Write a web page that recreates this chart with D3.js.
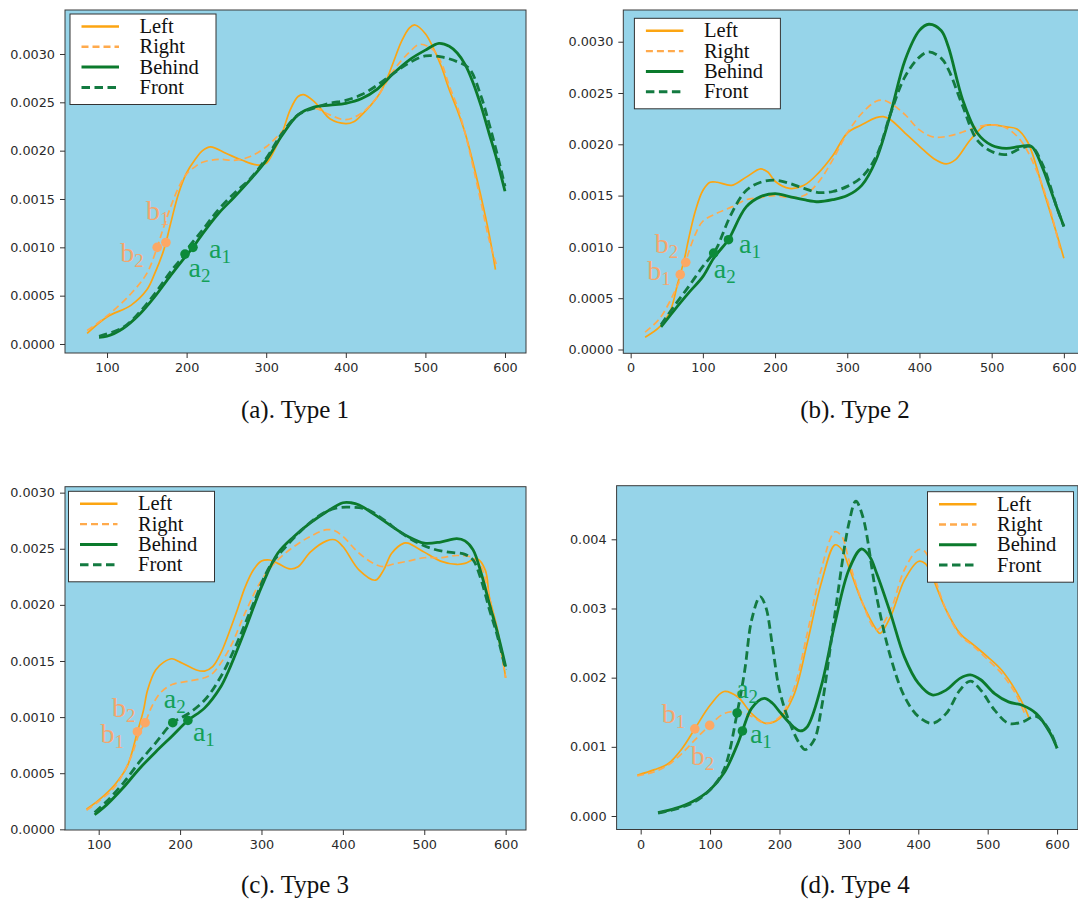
<!DOCTYPE html>
<html>
<head>
<meta charset="utf-8">
<script src="https://cdn.jsdelivr.net/npm/d3@7"></script>
<style>
  html, body { margin: 0; padding: 0; background: #ffffff; }
  svg { display: block; }
  .tick text { font-family: "DejaVu Sans", sans-serif; font-size: 12.8px; fill: #2a2a2a; }
  .tick line { stroke: #333333; }
  .domain { display: none; }
</style>
</head>
<body>
<svg id="chart" width="1078" height="907"></svg>
<script>
// ---- Density curves, [speed, density] pairs ----
const type1Left   = [[75,0.00011],[100,0.00028],[130,0.0004],[150,0.00056],[160,0.00073],[170,0.00094],[174,0.00105],[180,0.00125],[190,0.00156],[200,0.00177],[210,0.0019],[220,0.002],[230,0.00204],[250,0.00197],[270,0.0019],[290,0.00185],[300,0.00187],[310,0.002],[320,0.00218],[330,0.00242],[340,0.00256],[347,0.00258],[360,0.00251],[370,0.00242],[380,0.00233],[400,0.00228],[410,0.0023],[420,0.00237],[440,0.00256],[450,0.00271],[460,0.00292],[470,0.00313],[480,0.00327],[487,0.0033],[500,0.00321],[510,0.00306],[520,0.00287],[530,0.00263],[540,0.00242],[550,0.00218],[560,0.00187],[570,0.00152],[580,0.00114],[588,0.00077]];
const type1Right  = [[75,0.00014],[100,0.00029],[130,0.00052],[150,0.00073],[163,0.001],[170,0.00118],[180,0.00142],[190,0.00162],[200,0.00176],[210,0.00183],[220,0.00188],[240,0.00191],[260,0.0019],[280,0.00194],[300,0.00204],[320,0.0022],[340,0.00237],[360,0.00244],[380,0.00237],[400,0.00232],[420,0.00239],[440,0.00256],[460,0.00283],[480,0.00302],[493,0.0031],[510,0.00304],[520,0.00291],[530,0.00267],[540,0.00246],[550,0.00218],[560,0.00183],[570,0.00146],[580,0.00108],[590,0.0008]];
const type1Behind = [[90,0.00007],[100,0.00008],[120,0.00016],[140,0.0003],[160,0.00049],[180,0.00071],[200,0.00092],[208,0.001],[220,0.00114],[240,0.00135],[260,0.00152],[280,0.0017],[300,0.0019],[320,0.00216],[340,0.00237],[360,0.00245],[380,0.00247],[400,0.00249],[420,0.00254],[440,0.00264],[460,0.0028],[480,0.00294],[500,0.00304],[517,0.00311],[530,0.00308],[540,0.00301],[550,0.00289],[560,0.0027],[570,0.00246],[580,0.00218],[590,0.0019],[600,0.00158]];
const type1Front  = [[90,0.00008],[120,0.00017],[140,0.00032],[160,0.00052],[180,0.00075],[198,0.00093],[200,0.00097],[220,0.00118],[240,0.00139],[260,0.00156],[280,0.00171],[300,0.00192],[320,0.00218],[340,0.00237],[360,0.00244],[380,0.00249],[400,0.00252],[420,0.00258],[440,0.00268],[460,0.0028],[480,0.00291],[500,0.00298],[520,0.00297],[540,0.00292],[555,0.00285],[570,0.00256],[580,0.00228],[590,0.00197],[600,0.00163]];

const type2Left   = [[20,0.00012],[40,0.00022],[55,0.00038],[65,0.00064],[68.7,0.00073],[75,0.0009],[80,0.00107],[90,0.00136],[100,0.00155],[110,0.00163],[120,0.00163],[140,0.0016],[160,0.00168],[180,0.00176],[190,0.00173],[200,0.00164],[220,0.00157],[240,0.0016],[260,0.00172],[280,0.00189],[300,0.00211],[320,0.00219],[340,0.00226],[350,0.00227],[360,0.00224],[380,0.00211],[400,0.00198],[420,0.00186],[437,0.00181],[450,0.00185],[470,0.00204],[490,0.00218],[500,0.00219],[520,0.00217],[535,0.00215],[550,0.00202],[570,0.00159],[590,0.00113],[600,0.00089]];
const type2Right  = [[20,0.00017],[40,0.0003],[60,0.00055],[70,0.00071],[76.3,0.00085],[80,0.00094],[90,0.00113],[100,0.00125],[120,0.00133],[140,0.00139],[160,0.00146],[180,0.00148],[200,0.0015],[220,0.00148],[240,0.0015],[260,0.00163],[280,0.00185],[300,0.00211],[320,0.0023],[340,0.00242],[350,0.00243],[360,0.0024],[380,0.00229],[400,0.00214],[420,0.00207],[440,0.00208],[460,0.00212],[480,0.00217],[500,0.00219],[520,0.00216],[540,0.00204],[560,0.00178],[580,0.00139],[595,0.00097]];
const type2Behind = [[42,0.00022],[60,0.00038],[80,0.00055],[100,0.00071],[115,0.00089],[135.5,0.00107],[140,0.00113],[160,0.00139],[180,0.00149],[200,0.00152],[220,0.00149],[240,0.00146],[260,0.00144],[280,0.00146],[300,0.0015],[320,0.0016],[340,0.00185],[360,0.0023],[380,0.00282],[400,0.00311],[413,0.00317],[430,0.00311],[440,0.00295],[460,0.00243],[480,0.00211],[500,0.00199],[520,0.00196],[540,0.00198],[555,0.00198],[570,0.00178],[580,0.00159],[590,0.00139],[600,0.0012]];
const type2Front  = [[42,0.00024],[60,0.00042],[80,0.00061],[100,0.00081],[115,0.00094],[120,0.001],[140,0.00133],[160,0.00155],[180,0.00163],[200,0.00165],[220,0.00162],[240,0.00157],[260,0.00153],[280,0.00154],[300,0.00159],[320,0.00168],[340,0.00188],[360,0.0023],[380,0.00266],[400,0.00285],[413,0.0029],[430,0.00284],[440,0.00273],[460,0.00237],[480,0.00204],[500,0.00193],[520,0.0019],[540,0.00196],[555,0.00198],[570,0.00181],[580,0.00162],[590,0.00139],[600,0.0012]];

const type3Left   = [[85,0.00018],[100,0.00026],[120,0.0004],[135,0.00056],[147.6,0.00087],[155,0.00106],[160,0.00124],[170,0.00142],[180,0.00149],[190,0.00152],[200,0.00149],[220,0.00142],[230,0.00141],[240,0.00145],[250,0.00157],[260,0.00175],[270,0.00195],[280,0.00216],[290,0.00231],[300,0.00239],[310,0.0024],[320,0.00237],[335,0.00232],[345,0.00234],[360,0.00247],[380,0.00257],[390,0.00258],[400,0.00252],[420,0.00231],[440,0.00222],[450,0.00231],[460,0.00246],[475,0.00255],[480,0.00255],[500,0.00247],[520,0.00239],[540,0.00236],[550,0.00237],[565,0.00241],[575,0.00231],[580,0.00207],[590,0.00178],[600,0.00135]];
const type3Right  = [[85,0.00017],[100,0.00025],[120,0.00038],[140,0.00065],[150,0.00086],[157,0.00095],[165,0.00109],[175,0.00121],[190,0.00129],[210,0.00132],[230,0.00135],[240,0.00139],[260,0.0016],[280,0.00193],[300,0.00222],[320,0.0024],[340,0.00252],[360,0.00261],[380,0.00267],[390,0.00266],[400,0.00261],[420,0.00246],[440,0.00236],[450,0.00234],[460,0.00236],[480,0.00239],[500,0.00242],[520,0.00242],[540,0.00244],[560,0.00242],[570,0.00234],[580,0.00207],[590,0.00175],[600,0.00135]];
const type3Behind = [[95,0.00013],[110,0.00022],[130,0.00037],[150,0.00054],[170,0.00069],[190,0.00083],[209.6,0.00097],[230,0.00108],[250,0.00127],[260,0.00142],[280,0.00178],[300,0.00216],[320,0.00246],[340,0.00261],[360,0.00273],[380,0.00283],[400,0.00291],[410,0.00291],[420,0.00289],[440,0.0028],[460,0.0027],[480,0.00261],[500,0.00255],[520,0.00256],[540,0.00259],[550,0.00257],[560,0.00249],[570,0.00228],[580,0.00201],[590,0.00175],[600,0.00145]];
const type3Front  = [[95,0.00015],[110,0.00025],[130,0.00041],[150,0.0006],[170,0.00077],[191,0.00095],[210,0.00103],[230,0.00115],[250,0.00136],[270,0.00166],[290,0.00201],[310,0.00234],[330,0.00252],[350,0.00267],[370,0.00279],[390,0.00286],[410,0.00287],[430,0.00285],[450,0.00276],[470,0.00265],[490,0.00256],[510,0.0025],[530,0.00247],[550,0.00245],[560,0.0024],[570,0.00222],[580,0.00196],[590,0.00172],[600,0.00142]];

const type4Left   = [[-5,0.00059],[20,0.00067],[40,0.00076],[60,0.00098],[78,0.00126],[100,0.0016],[120,0.0018],[140,0.00172],[160,0.00148],[180,0.00134],[200,0.00141],[220,0.00173],[240,0.0025],[260,0.00336],[280,0.00392],[290,0.00385],[300,0.0036],[320,0.00307],[340,0.00269],[345,0.00264],[360,0.00288],[380,0.00341],[400,0.00368],[410,0.00365],[420,0.00346],[440,0.00298],[460,0.00264],[480,0.00247],[500,0.0023],[520,0.00211],[540,0.00182],[555,0.00153],[560,0.0014]];
const type4Right  = [[-5,0.00058],[20,0.00064],[40,0.00074],[60,0.00091],[80,0.00112],[99.4,0.00131],[120,0.00148],[140,0.00151],[160,0.00144],[180,0.00134],[200,0.00143],[220,0.00182],[240,0.00264],[260,0.00356],[280,0.00411],[290,0.00404],[300,0.0037],[320,0.00307],[340,0.00269],[360,0.00298],[380,0.00356],[400,0.00385],[410,0.00382],[420,0.00356],[440,0.00298],[460,0.00262],[480,0.00245],[500,0.00226],[520,0.00206],[540,0.00177],[555,0.00144]];
const type4Behind = [[25,0.00005],[50,0.00011],[75,0.00021],[100,0.00038],[120,0.00062],[140,0.00105],[146.6,0.00123],[160,0.00156],[178,0.0017],[190,0.00163],[200,0.00151],[220,0.00129],[230,0.00123],[240,0.00129],[260,0.00187],[280,0.00279],[300,0.00356],[318,0.00386],[330,0.00375],[340,0.00351],[360,0.00293],[380,0.0023],[400,0.00192],[420,0.00175],[440,0.00182],[460,0.00199],[475,0.00204],[490,0.00197],[510,0.00177],[530,0.00165],[550,0.0016],[570,0.00148],[590,0.0012],[600,0.00098]];
const type4Front  = [[25,0.00004],[50,0.0001],[75,0.00019],[100,0.00038],[120,0.00067],[139,0.00149],[150,0.00211],[160,0.00284],[172,0.00317],[180,0.00303],[190,0.00245],[200,0.00182],[215,0.00134],[230,0.00103],[237,0.00096],[250,0.0011],[260,0.00153],[280,0.00293],[300,0.00423],[310,0.00455],[320,0.00433],[340,0.00317],[360,0.0023],[380,0.00173],[400,0.00144],[420,0.00134],[440,0.00148],[460,0.00182],[475,0.00195],[490,0.00182],[510,0.00153],[530,0.00134],[550,0.00136],[570,0.00144],[590,0.00122],[600,0.00098]];

// ---- Marked points (name, subscript, speed, density) ----
const type1Marks = [["b","1",174,0.00105],["b","2",163,0.001],["a","1",208,0.001],["a","2",198,0.00093]];
const type2Marks = [["b","1",68.7,0.00073],["b","2",76.3,0.00085],["a","1",135.5,0.00107],["a","2",115,0.00094]];
const type3Marks = [["b","1",147.6,0.00087],["b","2",157,0.00095],["a","1",209.6,0.00097],["a","2",191,0.00095]];
const type4Marks = [["b","1",78,0.00126],["b","2",99.4,0.00131],["a","1",146.6,0.00123],["a","2",139,0.00149]];

// ---- Legend, captions and ticks ----
const seriesNames = ["Left", "Right", "Behind", "Front"];
const captions = ["(a). Type 1", "(b). Type 2", "(c). Type 3", "(d). Type 4"];
const xTicksA = [100, 200, 300, 400, 500, 600];
const xTicksB = [0, 100, 200, 300, 400, 500, 600];
const yTicksA = [0, 0.0005, 0.001, 0.0015, 0.002, 0.0025, 0.003];
const yTicksB = [0, 0.001, 0.002, 0.003, 0.004];

// ---- Styles per series ----
const seriesStyle = [
  { color: "#fca512", width: 1.7, dash: null },
  { color: "#ffaa4c", width: 1.7, dash: "7,4" },
  { color: "#0b7a2c", width: 2.8, dash: null },
  { color: "#137a40", width: 2.8, dash: "8.5,4.5" }
];
const markStyle = {
  b: { dot: "#fca865", text: "#f7a56c" },
  a: { dot: "#0c8a3a", text: "#14a058" }
};

// ---- Panel layout ----
const panels = [
  {
    frame: { l: 65, t: 10, r: 526, b: 353 },
    xDomain: [47.2, 626.4], yDomain: [-0.0000931, 0.003455],
    xTicks: xTicksA, yTicks: yTicksA, yFmt: ".4f",
    series: [type1Left, type1Right, type1Behind, type1Front],
    marks: type1Marks,
    labelOffsets: [[-20, -22.5], [-37, 15], [16, 11], [3.5, 23]],
    legend: { x: 70, y: 14 },
    caption: { x: 295, y: 418 }
  },
  {
    frame: { l: 623.3, t: 10, r: 1084.8, b: 353.3 },
    xDomain: [-10.2, 629], yDomain: [-0.000037, 0.003309],
    xTicks: xTicksB, yTicks: yTicksA, yFmt: ".4f",
    series: [type2Left, type2Right, type2Behind, type2Front],
    marks: type2Marks,
    labelOffsets: [[-33, 5.5], [-31, -9], [10.5, 13.5], [0, 25]],
    legend: { x: 634.4, y: 18.3 },
    caption: { x: 855, y: 418 }
  },
  {
    frame: { l: 65, t: 486.7, r: 526, b: 830 },
    xDomain: [58.6, 625], yDomain: [-0.000006, 0.003053],
    xTicks: xTicksA, yTicks: yTicksA, yFmt: ".4f",
    series: [type3Left, type3Right, type3Behind, type3Front],
    marks: type3Marks,
    labelOffsets: [[-37, 11], [-33, -6], [5, 21], [-9, -14.7]],
    legend: { x: 68.5, y: 491.3 },
    caption: { x: 295, y: 893 }
  },
  {
    frame: { l: 616.6, t: 485.7, r: 1077.9, b: 829.5 },
    xDomain: [-34.7, 630], yDomain: [-0.000195, 0.004775],
    xTicks: xTicksB, yTicks: yTicksB, yFmt: ".3f",
    series: [type4Left, type4Right, type4Behind, type4Front],
    marks: type4Marks,
    labelOffsets: [[-33, -6], [-19, 40], [7.5, 12], [-1, -15]],
    legend: { x: 927.5, y: 491.7 },
    caption: { x: 855, y: 893 }
  }
];

const svg = d3.select("#chart");
const defs = svg.append("defs");

panels.forEach((p, i) => {
  const f = p.frame;
  const x = d3.scaleLinear().domain(p.xDomain).range([f.l, f.r]);
  const y = d3.scaleLinear().domain(p.yDomain).range([f.b, f.t]);
  const g = svg.append("g").attr("class", "panel");

  // plot background
  g.append("rect")
    .attr("x", f.l).attr("y", f.t)
    .attr("width", f.r - f.l).attr("height", f.b - f.t)
    .attr("fill", "#96d4e9");

  const clipId = "clip" + i;
  defs.append("clipPath").attr("id", clipId)
    .append("rect")
    .attr("x", f.l).attr("y", f.t)
    .attr("width", f.r - f.l).attr("height", f.b - f.t);

  // curves
  const line = d3.line()
    .x(d => x(d[0])).y(d => y(d[1]))
    .curve(d3.curveCatmullRom.alpha(0.5));
  const curves = g.append("g").attr("clip-path", `url(#${clipId})`);
  p.series.forEach((s, k) => {
    const st = seriesStyle[k];
    curves.append("path")
      .datum(s)
      .attr("d", line)
      .attr("fill", "none")
      .attr("stroke", st.color)
      .attr("stroke-width", st.width)
      .attr("stroke-dasharray", st.dash)
      .attr("stroke-linejoin", "round");
  });

  // frame
  g.append("rect")
    .attr("x", f.l).attr("y", f.t)
    .attr("width", f.r - f.l).attr("height", f.b - f.t)
    .attr("fill", "none").attr("stroke", "#3a3a3a").attr("stroke-width", 1);

  // axes
  g.append("g")
    .attr("transform", `translate(0,${f.b})`)
    .call(d3.axisBottom(x).tickValues(p.xTicks).tickSize(5).tickPadding(5).tickFormat(d3.format("d")));
  g.append("g")
    .attr("transform", `translate(${f.l},0)`)
    .call(d3.axisLeft(y).tickValues(p.yTicks).tickSize(5).tickPadding(5).tickFormat(d3.format(p.yFmt)));

  // marked points and their labels
  p.marks.forEach((m, k) => {
    const ms = markStyle[m[0]];
    const cx = x(m[2]), cy = y(m[3]);
    g.append("circle")
      .attr("cx", cx).attr("cy", cy).attr("r", 4.8)
      .attr("fill", ms.dot);
    const off = p.labelOffsets[k];
    const t = g.append("text")
      .attr("x", cx + off[0]).attr("y", cy + off[1])
      .attr("font-family", "'Liberation Serif', 'Times New Roman', serif")
      .attr("font-size", 28)
      .attr("fill", ms.text);
    t.append("tspan").text(m[0]);
    t.append("tspan").attr("font-size", 19).attr("dy", 5).text(m[1]);
  });

  // legend
  const lg = g.append("g").attr("transform", `translate(${p.legend.x},${p.legend.y})`);
  lg.append("rect")
    .attr("width", 146).attr("height", 90.5)
    .attr("fill", "#ffffff").attr("stroke", "#333333").attr("stroke-width", 1);
  seriesNames.forEach((name, k) => {
    const st = seriesStyle[k];
    const cy = 12.5 + 20.3 * k;
    lg.append("line")
      .attr("x1", 11.5).attr("x2", 49).attr("y1", cy).attr("y2", cy)
      .attr("stroke", st.color)
      .attr("stroke-width", k < 2 ? 2.4 : 3)
      .attr("stroke-dasharray", st.dash);
    lg.append("text")
      .attr("x", 69.5).attr("y", cy + 6.5)
      .attr("font-family", "'Liberation Serif', 'Times New Roman', serif")
      .attr("font-size", 20.5)
      .attr("fill", "#111111")
      .text(name);
  });

  // caption
  svg.append("text")
    .attr("x", p.caption.x).attr("y", p.caption.y)
    .attr("text-anchor", "middle")
    .attr("font-family", "'Liberation Serif', 'Times New Roman', serif")
    .attr("font-size", 25)
    .attr("fill", "#111111")
    .text(captions[i]);
});
</script>
</body>
</html>
